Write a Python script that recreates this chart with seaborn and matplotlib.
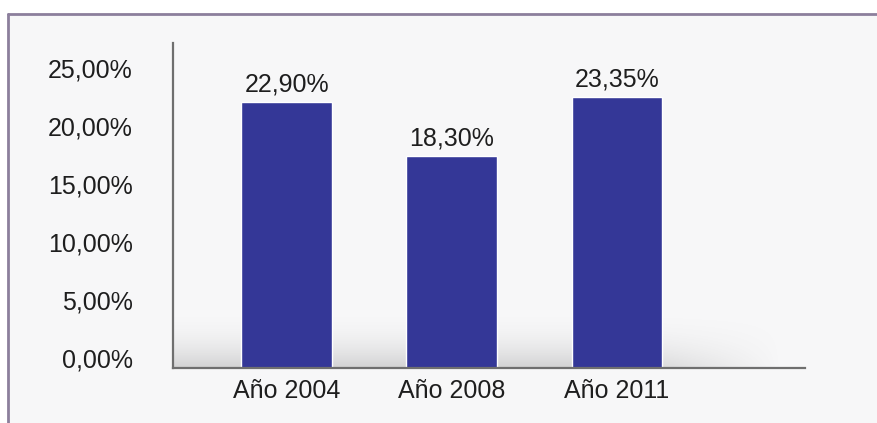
import numpy as np
import pandas as pd
import matplotlib
matplotlib.use("Agg")
import matplotlib.pyplot as plt
import matplotlib.transforms as mtransforms
from matplotlib.patches import Rectangle
from matplotlib.lines import Line2D
import seaborn as sns

# Data
categories = ["Año 2004", "Año 2008", "Año 2011"]
values = [22.90, 18.30, 23.35]
value_labels = ["22,90%", "18,30%", "23,35%"]
y_ticks = [0, 5, 10, 15, 20, 25]
y_tick_labels = ["0,00%", "5,00%", "10,00%", "15,00%", "20,00%", "25,00%"]

sns.set_theme(style="white")
plt.rcParams["font.family"] = ["Liberation Sans", "DejaVu Sans"]

BAR_COLOR = "#343797"
TEXT_COLOR = "#1e1e1e"
AXIS_COLOR = "#6f6f6f"
PANEL_BG = "#f7f7f8"

fig = plt.figure(figsize=(8.77, 4.23), dpi=100)
fig.patch.set_facecolor("white")

# Panel background and frame
fig.patches.append(Rectangle((8 / 877, 0), 1, 1 - 14 / 423, transform=fig.transFigure,
                             facecolor=PANEL_BG, edgecolor="none", zorder=-10))
fig.lines.append(Line2D([8 / 877, 1], [1 - 14 / 423, 1 - 14 / 423], transform=fig.transFigure,
                        color="#8c7f9c", lw=2))
fig.lines.append(Line2D([8 / 877, 8 / 877], [0, 1 - 14 / 423], transform=fig.transFigure,
                        color="#8c7f9c", lw=2))

ax = fig.add_axes([173 / 877, 1 - 368 / 423, (805 - 173) / 877, (368 - 43) / 423])
ax.set_facecolor("none")

df = pd.DataFrame({"categoria": categories, "valor": values})
sns.barplot(data=df, x="categoria", y="valor", color=BAR_COLOR, saturation=1,
            width=0.55, ax=ax, zorder=3)

ax.set_xlim(-0.69, 3.14)
ax.set_ylim(0, 28.0)

# Soft floor shadow behind the bars (fades upward and to the right)
ny, nx = 120, 200
vert = np.linspace(0, 1, ny)[:, None] ** 2.2
horiz = np.clip((1.0 - np.linspace(0, 1, nx)) / 0.25, 0, 1)[None, :]
shade = np.zeros((ny, nx, 4))
shade[..., :3] = 0.55
shade[..., 3] = 0.35 * vert * horiz
ax.imshow(shade, extent=(-0.69, 3.0, 0, 5.0), aspect="auto",
          origin="upper", zorder=1, interpolation="bilinear")

# Value labels
for i, (v, lab) in enumerate(zip(values, value_labels)):
    ax.annotate(lab, (i, v), xytext=(0, 4), textcoords="offset points",
                ha="center", va="bottom", fontsize=18, color=TEXT_COLOR, zorder=5)

ax.set_yticks(y_ticks)
ax.set_yticklabels(y_tick_labels)
ax.tick_params(axis="y", length=0, pad=29, labelsize=18, labelcolor=TEXT_COLOR)
ax.tick_params(axis="x", length=0, pad=8, labelsize=18, labelcolor=TEXT_COLOR)
ax.set_xlabel("")
ax.set_ylabel("")

shift = mtransforms.ScaledTranslation(0, 10 / 100, fig.dpi_scale_trans)
for lbl in ax.get_yticklabels():
    lbl.set_transform(lbl.get_transform() + shift)

for side in ["top", "right"]:
    ax.spines[side].set_visible(False)
for side in ["left", "bottom"]:
    ax.spines[side].set_color(AXIS_COLOR)
    ax.spines[side].set_linewidth(1.6)
    ax.spines[side].set_zorder(4)

fig.savefig("out.png", dpi=100, facecolor=fig.get_facecolor())
